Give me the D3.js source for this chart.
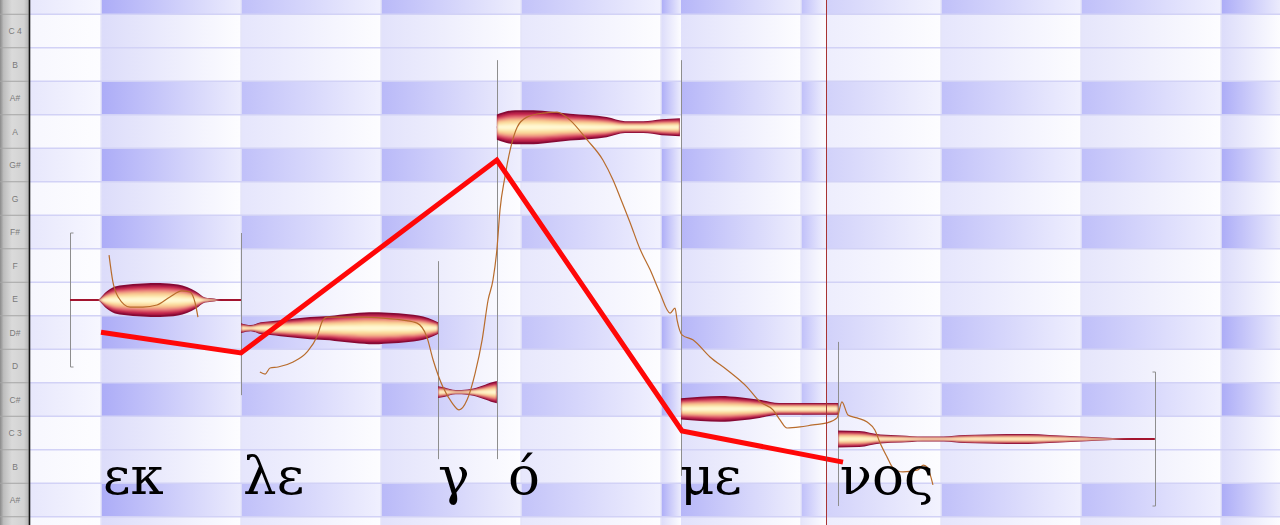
<!DOCTYPE html>
<html>
<head>
<meta charset="utf-8">
<script src="https://cdn.jsdelivr.net/npm/d3@7"></script>
<style>
  html, body { margin: 0; padding: 0; background: #fff; overflow: hidden; }
  svg { display: block; }
</style>
</head>
<body>
<script>
// piano-roll rows (midi pitch, top to bottom) and their key labels
var rowPitches = [61, 60, 59, 58, 57, 56, 55, 54, 53, 52, 51, 50, 49, 48, 47, 46, 45];
var rowLabels = ["", "C 4", "B", "A#", "A", "G#", "G", "F#", "F", "E", "D#", "D", "C#", "C 3", "B", "A#", ""];

// bar shading (time in beats, 4 beats per bar)
var bandStart = [-2.03, 0, 4, 8, 12, 16, 16.57, 20, 20.71, 24, 28, 32];
var bandEnd   = [0, 4, 8, 12, 16, 16.57, 20, 20.71, 24, 28, 32, 33.7];
var bandWeight = [0.12, 1.0, 0.7, 0.8, 0.65, 1.0, 0.85, 0.72, 0.45, 0.7, 0.72, 1.0];
var barLines = [0, 4, 8, 12, 16, 20, 24, 28, 32];

// notes (blobs)
var noteSyllable = ["εκ", "λε", "γ", "ό", "με", "νος"];
var noteStart = [-0.886, 4, 9.63, 11.31, 16.57, 21.06];
var noteEnd   = [4, 9.63, 11.31, 16.54, 21.06, 30.11];
var notePitch = [51.97, 51.13, 49.22, 57.13, 48.72, 47.82];
var noteAmp = [
  [0, 0, 0, 0, 47, 79, 88, 94, 97, 100, 100, 97, 91, 76, 50, 15, 9, 0, 0, 0],
  [29, 18, 35, 41, 47, 53, 59, 65, 68, 71, 79, 85, 91, 94, 94, 91, 88, 82, 74, 59, 35],
  [35, 29, 18, 12, 12, 15, 21, 32, 44, 56, 65],
  [74, 100, 100, 91, 79, 71, 59, 35, 35, 47, 53],
  [62, 71, 76, 68, 53, 35, 35, 35, 35],
  [50, 47, 26, 21, 15, 15, 24, 26, 29, 29, 24, 18, 12, 6, 0, 0]
];

// syllable text positions (beats)
var syllableT = [0.06, 4.06, 9.63, 11.63, 16.54, 21.11];

// detected pitch curve [beat, midi pitch]
var pitchCurveA = [
  [0.23, 53.31], [0.34, 52.51], [0.49, 52.06], [0.83, 51.76], [1.2, 51.76], [1.6, 51.82],
  [1.97, 52.06], [2.31, 52.24], [2.54, 52.21], [2.69, 51.88], [2.77, 51.46]
];
var pitchCurveB = [
  [4.54, 49.82], [4.69, 49.76], [4.83, 49.94], [5.06, 49.97], [5.49, 50.12], [5.89, 50.42],
  [6.17, 50.87], [6.34, 51.37], [6.46, 51.46], [6.83, 51.46], [7.49, 51.46], [8.06, 51.43],
  [8.63, 51.37], [9.03, 51.28], [9.31, 50.87], [9.49, 50.18], [9.77, 49.37], [10.03, 48.9],
  [10.23, 48.69], [10.46, 48.99], [10.69, 49.79], [10.89, 50.78], [11.06, 51.97], [11.2, 52.57],
  [11.31, 53.46], [11.4, 54.66], [11.54, 55.64], [11.69, 56.45], [11.89, 57.13], [12.17, 57.43],
  [12.63, 57.55], [13.03, 57.58], [13.4, 57.34], [13.89, 56.75], [14.34, 56.15], [14.63, 55.55],
  [14.83, 55.04], [15.11, 54.3], [15.4, 53.49], [15.69, 52.87], [15.97, 52.18], [16.26, 51.58],
  [16.4, 51.73], [16.46, 51.37], [16.6, 50.93], [16.91, 50.78], [17.4, 50.27], [17.89, 49.88],
  [18.46, 49.37], [18.83, 48.93], [19.2, 48.69], [19.4, 48.39], [19.6, 48.15], [19.97, 48.18],
  [20.34, 48.24], [20.74, 48.3], [21.03, 48.45], [21.17, 48.93], [21.34, 48.54], [21.6, 48.45],
  [21.89, 48.33], [22.11, 48.09], [22.26, 47.7], [22.46, 47.28], [22.63, 46.96], [22.91, 46.84],
  [23.34, 46.9], [23.49, 47.04], [23.6, 46.99], [23.77, 46.45]
];

// red melody contour
var contourT = [0, 4, 11.31, 16.6, 21.2];
var contourP = [51.01, 50.39, 56.15, 48.06, 47.13];

var playheadT = 20.71;

var width = 1280, height = 525, keyW = 30;

// scales
var xScale = d3.scaleLinear().domain([0, 32]).range([101, 1221]);   // beats -> px
var yScale = d3.scaleLinear().domain([60, 46]).range([31, 500]);    // midi -> px
var rowH = Math.abs(yScale(0) - yScale(1));
var ampScale = d3.scaleLinear().domain([0, 100]).range([0, 34]);    // amplitude -> blob thickness

var isBlack = function (m) { return [1, 3, 6, 8, 10].indexOf(m % 12) >= 0; };

var svg = d3.select("body").append("svg")
    .attr("width", width)
    .attr("height", height);

var defs = svg.append("defs");

// band gradients
bandWeight.forEach(function (w, i) {
    var blackL = d3.interpolateRgb("#efeffd", "#acacf7")(w),
        blackR = d3.interpolateRgb("#f9f9ff", "#ececfd")(w),
        whiteL = d3.interpolateRgb("#fbfbff", "#dcdcfa")(w),
        whiteR = "#fdfdff";
    [["b", blackL, blackR], ["w", whiteL, whiteR]].forEach(function (g) {
        var lg = defs.append("linearGradient")
            .attr("id", "band" + i + g[0])
            .attr("x1", 0).attr("x2", 1).attr("y1", 0).attr("y2", 0);
        lg.append("stop").attr("offset", 0).attr("stop-color", g[1]);
        lg.append("stop").attr("offset", 1).attr("stop-color", g[2]);
    });
});

// keyboard gradient
var kg = defs.append("linearGradient").attr("id", "keys")
    .attr("x1", 0).attr("x2", 1).attr("y1", 0).attr("y2", 0);
[[0, "#8a8a8a"], [0.12, "#bdbdbd"], [0.4, "#dadada"], [0.8, "#d2d2d2"], [1, "#aaaaaa"]].forEach(function (s) {
    kg.append("stop").attr("offset", s[0]).attr("stop-color", s[1]);
});

defs.append("filter").attr("id", "soft")
    .attr("x", "-5%").attr("y", "-50%").attr("width", "110%").attr("height", "200%")
    .append("feGaussianBlur").attr("stdDeviation", 1.2);

// background bands
var bg = svg.append("g");
bandStart.forEach(function (bs, i) {
    var x0 = Math.max(xScale(bs), keyW), x1 = xScale(bandEnd[i]);
    bg.selectAll(null)
        .data(rowPitches)
        .enter().append("rect")
        .attr("x", x0)
        .attr("width", x1 - x0)
        .attr("y", function (m) { return yScale(m) - rowH / 2; })
        .attr("height", rowH)
        .attr("fill", function (m) { return "url(#band" + i + (isBlack(m) ? "b" : "w") + ")"; });
});

// bar lines
bg.selectAll("line.bar")
    .data(barLines)
    .enter().append("line")
    .attr("x1", function (d) { return xScale(d); })
    .attr("x2", function (d) { return xScale(d); })
    .attr("y1", 0).attr("y2", height)
    .attr("stroke", "#e4e4f8")
    .attr("stroke-width", 1.5);

// row lines
bg.selectAll("line.row")
    .data(rowPitches)
    .enter().append("line")
    .attr("x1", keyW).attr("x2", width)
    .attr("y1", function (m) { return yScale(m) + rowH / 2; })
    .attr("y2", function (m) { return yScale(m) + rowH / 2; })
    .attr("stroke", "#d2d2f6")
    .attr("stroke-width", 1.5);

// keyboard
var kb = svg.append("g");
kb.append("rect").attr("x", 0).attr("y", 0).attr("width", keyW).attr("height", height)
    .attr("fill", "url(#keys)");
kb.selectAll("line")
    .data(rowPitches)
    .enter().append("line")
    .attr("x1", 0).attr("x2", keyW)
    .attr("y1", function (m) { return yScale(m) + rowH / 2; })
    .attr("y2", function (m) { return yScale(m) + rowH / 2; })
    .attr("stroke", "#a4a4a4")
    .attr("stroke-width", 1);
kb.selectAll("text")
    .data(rowPitches)
    .enter().append("text")
    .attr("x", 15)
    .attr("y", function (m) { return yScale(m) + 3; })
    .attr("text-anchor", "middle")
    .attr("font-family", "Liberation Sans, Arial, sans-serif")
    .attr("font-size", 8.5)
    .attr("fill", "#7a7a7a")
    .text(function (m, i) { return rowLabels[i]; });
kb.append("line").attr("x1", keyW - 0.5).attr("x2", keyW - 0.5).attr("y1", 0).attr("y2", height)
    .attr("stroke", "#151515").attr("stroke-width", 1.6);

// note boundary lines and brackets (each note spans +-2 semitones)
var guides = svg.append("g").attr("stroke", "#8e8e8e").attr("stroke-width", 1).attr("fill", "none");
noteStart.forEach(function (t, i) {
    if (i === 0) return;
    var hi = Math.max(notePitch[i - 1], notePitch[i]) + 2,
        lo = Math.min(notePitch[i - 1], notePitch[i]) - 2;
    guides.append("line")
        .attr("x1", Math.round(xScale(t)) + 0.5).attr("x2", Math.round(xScale(t)) + 0.5)
        .attr("y1", yScale(hi)).attr("y2", yScale(lo));
});
function bracket(t, p, dir) {
    var bx = Math.round(xScale(t)) + 0.5;
    guides.append("path")
        .attr("d", "M" + (bx + 3 * dir) + "," + yScale(p + 2) + "H" + bx + "V" + yScale(p - 2) + "H" + (bx + 3 * dir));
}
bracket(noteStart[0], notePitch[0], 1);
bracket(noteEnd[noteEnd.length - 1], notePitch[notePitch.length - 1], -1);

// note center lines
var notes = svg.append("g");
noteStart.forEach(function (t, i) {
    notes.append("line")
        .attr("x1", xScale(t)).attr("x2", xScale(noteEnd[i]))
        .attr("y1", yScale(notePitch[i])).attr("y2", yScale(notePitch[i]))
        .attr("stroke", "#a3142e").attr("stroke-width", 2);
});

// note blobs: dark rim, then soft crimson -> yellow core clipped inside
var rim = { f: 1.0, c: "#860934" };
var core = [
    { f: 0.86, c: "#c8284f" },
    { f: 0.66, c: "#e8747a" },
    { f: 0.5, c: "#f6bb8a" },
    { f: 0.34, c: "#fce2a4" },
    { f: 0.16, c: "#fff8d2" }
];
function blobArea(cy, f) {
    return d3.area()
        .x(function (d) { return xScale(d.t); })
        .y0(function (d) { return cy + ampScale(d.a) * f / 2; })
        .y1(function (d) { return cy - ampScale(d.a) * f / 2; })
        .curve(d3.curveMonotoneX);
}
noteAmp.forEach(function (amps, i) {
    var n = amps.length,
        tStep = (noteEnd[i] - noteStart[i]) / (n - 1),
        pts = amps.map(function (a, k) { return { t: noteStart[i] + k * tStep, a: a }; }),
        cy = yScale(notePitch[i]);

    defs.append("clipPath").attr("id", "clip" + i)
        .append("path").datum(pts).attr("d", blobArea(cy, 0.9));

    notes.append("path").datum(pts).attr("d", blobArea(cy, rim.f)).attr("fill", rim.c);
    var inner = notes.append("g").attr("clip-path", "url(#clip" + i + ")")
        .append("g").attr("filter", "url(#soft)");
    core.forEach(function (L) {
        inner.append("path").datum(pts).attr("d", blobArea(cy, L.f)).attr("fill", L.c);
    });
});

// pitch curve
var curveLine = d3.line()
    .x(function (d) { return xScale(d[0]); })
    .y(function (d) { return yScale(d[1]); })
    .curve(d3.curveMonotoneX);
[pitchCurveA, pitchCurveB].forEach(function (seg) {
    svg.append("path")
        .datum(seg)
        .attr("d", curveLine)
        .attr("fill", "none")
        .attr("stroke", "#b86c2c")
        .attr("stroke-width", 1.2);
});

// syllables
svg.append("g").selectAll("text")
    .data(noteSyllable)
    .enter().append("text")
    .attr("x", function (d, i) { return xScale(syllableT[i]); })
    .attr("y", 494)
    .attr("font-family", "DejaVu Serif, serif")
    .attr("font-size", 53)
    .attr("fill", "#000")
    .text(function (d) { return d; });

// red contour
svg.append("path")
    .datum(contourT.map(function (t, i) { return [t, contourP[i]]; }))
    .attr("d", d3.line()
        .x(function (d) { return xScale(d[0]); })
        .y(function (d) { return yScale(d[1]); }))
    .attr("fill", "none")
    .attr("stroke", "#ff0808")
    .attr("stroke-width", 5)
    .attr("stroke-linejoin", "miter");

// playhead
svg.append("line")
    .attr("x1", Math.round(xScale(playheadT)) + 0.5).attr("x2", Math.round(xScale(playheadT)) + 0.5)
    .attr("y1", 0).attr("y2", height)
    .attr("stroke", "#a83434").attr("stroke-width", 1);
</script>
</body>
</html>
